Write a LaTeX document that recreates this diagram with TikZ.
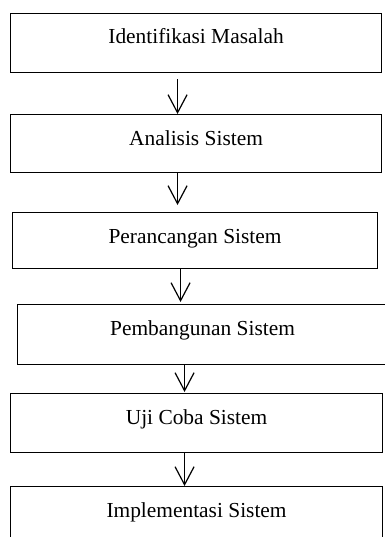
\documentclass[tikz,border=0pt]{standalone}
\usepackage{fontspec}
\setmainfont{Liberation Serif}
\usetikzlibrary{arrows.meta}
\begin{document}
\begin{tikzpicture}[x=1pt,y=1pt,
  stepbox/.style={draw,line width=1.1pt,inner sep=0pt,anchor=north west,align=center,
    font=\fontsize{21.4}{25}\selectfont},
  arr/.style={line width=1.1pt,-{Straight Barb[length=18pt,width=19pt,line width=1.2pt]}}]
\useasboundingbox (0,0) rectangle (384,-537);
\node[stepbox,minimum width=371pt,text height=30.3pt,text depth=29pt] (b1) at (10,-12.7) {Identifikasi Masalah};
\node[stepbox,minimum width=371pt,text height=31pt,text depth=27pt] (b2) at (10,-114) {Analisis Sistem};
\node[stepbox,minimum width=365pt,text height=31pt,text depth=25pt] (b3) at (12,-212) {Perancangan Sistem};
\node[stepbox,minimum width=370pt,text height=31pt,text depth=29pt] (b4) at (17,-304) {Pembangunan Sistem};
\node[stepbox,minimum width=372pt,text height=31pt,text depth=28pt] (b5) at (10,-393) {Uji Coba Sistem};
\node[stepbox,minimum width=372pt,text height=31pt,text depth=29pt] (b6) at (10,-486) {Implementasi Sistem};
\draw[arr] ([xshift=-18.5pt,yshift=-6pt]b1.south) -- ([xshift=-18.5pt]b2.north);
\draw[arr] ([xshift=-18.5pt]b2.south) -- ([xshift=-17.5pt,yshift=7pt]b3.north);
\draw[arr] ([xshift=-14.5pt]b3.south) -- ([xshift=-22pt,yshift=2pt]b4.north);
\draw[arr] ([xshift=-18pt]b4.south) -- ([xshift=-12pt,yshift=1pt]b5.north);
\draw[arr] ([xshift=-12pt]b5.south) -- ([xshift=-12pt]b6.north);
\end{tikzpicture}
\end{document}
